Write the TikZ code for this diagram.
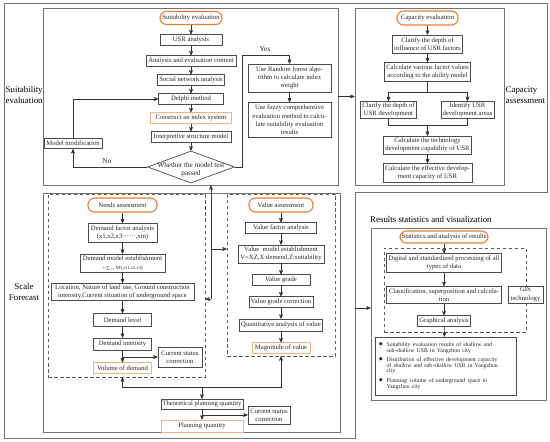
\documentclass[tikz,border=0pt]{standalone}
\usepackage{fontspec}
\setmainfont{Liberation Serif}
\usepackage{tikz}
\usetikzlibrary{arrows, positioning, shapes.geometric}
\definecolor{accent}{HTML}{ED7D31}
\definecolor{accentlight}{HTML}{F4B183}
\newcommand{\boxfont}{\fontsize{6.7}{8.3}\selectfont}
\newcommand{\sidefont}{\fontsize{8.9}{10.5}\selectfont}
\newcommand{\tagfont}{\fontsize{7.4}{8}\selectfont}
\newcommand{\decisionfont}{\fontsize{7.2}{8.4}\selectfont}
\newcommand{\bulletdot}{\smash{\raisebox{-2bp}{\fontsize{13}{13}\selectfont\textbullet}}}
\tikzstyle{panel}=[draw=black!55, line width=0.9bp]
\tikzstyle{zone}=[draw=black!65, line width=0.7bp, dash pattern=on 3.5bp off 2.5bp]
\tikzstyle{stage}=[rectangle, draw=black!70, line width=0.7bp, text=black!85, font=\boxfont, align=center, inner sep=1.5bp, minimum height=10.5bp]
\tikzstyle{headline}=[stage, rounded corners=6.5bp, draw=accent, line width=1.1bp, minimum height=13bp]
\tikzstyle{result}=[stage, draw=accentlight, line width=0.8bp]
\tikzstyle{decision}=[diamond, draw=black!70, line width=0.7bp, minimum width=87bp, minimum height=32bp, inner sep=0pt]
\tikzstyle{sidelabel}=[font=\sidefont, align=left, inner sep=1bp]
\tikzstyle{tag}=[font=\tagfont, text=black!85, inner sep=1bp]
\tikzstyle{link}=[draw=black!80, line width=0.6bp]
\tikzstyle{inflow}=[<-]

\begin{document}
\begin{tikzpicture}[x=1bp, y=-1bp, node distance=19bp, >=stealth', every edge/.style={draw, black!80, line width=0.6bp}]
  \useasboundingbox (0,0) rectangle (550,442);

  % frames
  \draw[panel] (4,3) -- (547,3) -- (547,192) -- (355,192) -- (355,438) -- (4,438) -- cycle;
  \node[panel, minimum width=295bp, minimum height=177bp] (suitbox) at (190.5,96.5) {};
  \node[panel, minimum width=149bp, minimum height=177bp] (capbox) at (429.5,96.5) {};
  \node[panel, minimum width=297bp, minimum height=239bp] (scalebox) at (191.5,312.5) {};
  \node[zone, minimum width=157bp, minimum height=183bp] (needsbox) at (126.5,285.5) {};
  \node[zone, minimum width=108bp, minimum height=162bp] (valuebox) at (281,275) {};
  \node[panel, minimum width=175bp, minimum height=172bp] (resbox) at (458.5,314) {};
  \node[zone, minimum width=142bp, minimum height=84bp] (resgroup) at (455,290) {};

  \node[sidelabel, anchor=west] (lsuit) at (4.5,95) {Suitability\\evaluation};
  \node[sidelabel, align=center] (lscale) at (24,292) {Scale\\Forecast};
  \node[sidelabel, anchor=west] (lcap) at (504.5,95) {Capacity\\assessment};
  \node[sidelabel, anchor=west] (lres) at (369,219) {Results statistics and visualization};

  % suitability evaluation
  \node[headline, minimum width=62bp] (se) at (191,18) {Suitability evaluation};
  \node[stage, minimum width=62bp] (usr) [below of=se, yshift=-3bp] {USR analysis} edge [inflow] (se);
  \node[stage, minimum width=90bp] (aec) [below of=usr, yshift=-2bp] {Analysis and evaluation content} edge [inflow] (usr);
  \node[stage, minimum width=65bp] (sna) [below of=aec] {Social network analysis} edge [inflow] (aec);
  \node[stage, minimum width=65bp] (del) [below of=sna] {Delphi method} edge [inflow] (sna);
  \node[result, minimum width=81bp] (idx) [below of=del] {Construct an index system} edge [inflow] (del);
  \node[stage, minimum width=80bp] (ism) [below of=idx] {Interpretive structure model} edge [inflow] (idx);
  \node[decision, label={[font=\decisionfont, text=black!85, align=center, yshift=-3bp]center:{Whether the model test\\passed}}] (pass) [below of=ism, yshift=-11bp] {} edge [inflow] (ism);
  \node[stage, minimum width=58bp] (mod) at (73,143.5) {Model modification};
  \node[stage, minimum width=83bp, minimum height=28bp] (rf) at (289.5,78) {Use Random forest algo-\\rithm to calculate index\\weight};
  \node[stage, minimum width=83bp, minimum height=35bp] (fz) [below of=rf, yshift=-23bp] {Use fuzzy comprehensive\\evaluation method to calcu-\\late suitability evaluation\\results} edge [inflow] (rf);
  \node[tag] (no) at (107,161) {No};
  \node[tag] (yes) at (265,49) {Yes};

  % capacity evaluation
  \node[headline, minimum width=61bp, minimum height=14bp] (ce) at (427.5,18) {Capacity evaluation};
  \node[stage, minimum width=69bp, minimum height=18bp] (cdi) [below of=ce, yshift=-7bp] {Clarify the depth of\\influence of USR factors} edge [inflow] (ce);
  \node[stage, minimum width=86bp, minimum height=19bp] (cfv) [below of=cdi, yshift=-9bp] {Calculate various factor values\\according to the ability model} edge [inflow] (cdi);
  \node[stage, minimum width=55bp, minimum height=17bp] (cdd) [below of=cfv, xshift=-39bp, yshift=-19bp] {Clarify the depth of\\USR development};
  \node[stage, minimum width=53bp, minimum height=17bp] (ida) [below of=cfv, xshift=40bp, yshift=-19bp] {Identify USR\\development areas};
  \node[stage, minimum width=87bp, minimum height=18bp] (ctc) [below of=cfv, yshift=-54bp] {Calculate the technology\\development capability of USR};
  \node[stage, minimum width=89bp, minimum height=19bp] (ecc) [below of=ctc, yshift=-9bp] {Calculate the effective develop-\\ment capacity of USR} edge [inflow] (ctc);
  \coordinate (split) at (427.5,92);
  \coordinate (merge) at (427.5,125);

  % needs assessment
  \node[headline, minimum width=69bp, minimum height=14bp] (na) at (122.5,205) {Needs assessment};
  \node[stage, minimum width=69bp, minimum height=19bp] (dfa) [below of=na, yshift=-9bp] {Demand factor analysis\\(x1,x2,x3······,xm)} edge [inflow] (na);
  \node[stage, minimum width=85bp, minimum height=18bp] (dme) [below of=dfa, yshift=-11bp] {Demand model establishment\\[0.6bp]{\fontsize{4.6}{5}\selectfont +-∑\textsubscript{i=1} ND\textsubscript{i}(x1,x2,x3)}} edge [inflow] (dfa);
  \node[stage, minimum width=143bp, minimum height=17bp] (loc) [below of=dme, yshift=-10bp] {Location, Nature of land use, Ground construction\\intensity,Current situation of underground space} edge [inflow] (dme);
  \node[stage, minimum width=58bp, minimum height=13bp] (dl) [below of=loc, yshift=-9bp] {Demand level} edge [inflow] (loc);
  \node[stage, minimum width=58bp, minimum height=12bp] (di) [below of=dl, yshift=-5bp] {Demand intensity} edge [inflow] (dl);
  \node[result, minimum width=58bp] (vod) [below of=di, yshift=-5bp] {Volume of demand} edge [inflow] (di);
  \node[stage, minimum width=44bp, minimum height=20bp] (csc1) at (180,357) {Current status\\correction};

  % value assessment
  \node[headline, minimum width=64bp, minimum height=14bp] (va) at (281,205) {Value assessment};
  \node[stage, minimum width=71bp] (vfa) [below of=va, yshift=-4bp] {Value factor analysis} edge [inflow] (va);
  \node[stage, minimum width=86bp, minimum height=18bp] (vme) [below of=vfa, yshift=-7bp] {Value\ \ model establishment\\V=XZ,X:demend,Z:suitability} edge [inflow] (vfa);
  \node[stage, minimum width=58bp] (vg) [below of=vme, yshift=-7bp] {Value grade} edge [inflow] (vme);
  \node[stage, minimum width=64bp] (vgc) [below of=vg, yshift=-3bp] {Value grade correction} edge [inflow] (vg);
  \node[stage, minimum width=82bp, minimum height=12bp] (qav) [below of=vgc, yshift=-4bp] {Quantitative analysis of value} edge [inflow] (vgc);
  \node[result, minimum width=58bp] (mov) [below of=qav, yshift=-4bp] {Magnitude of value} edge [inflow] (qav);

  % planning quantity
  \node[stage, minimum width=82bp, minimum height=10bp] (tpq) at (202,404) {Theoretical planning quantity};
  \node[result, minimum width=82bp, minimum height=12bp] (pq) [below of=tpq, yshift=-3bp] {Planning quantity} edge [inflow] (tpq);
  \node[stage, minimum width=42bp, minimum height=18bp] (csc2) at (269,415) {Current status\\correction};

  % results
  \node[headline, minimum width=88bp, minimum height=12bp] (sar) at (444,237) {Statistics and analysis of results};
  \node[stage, minimum width=115bp, minimum height=19bp] (dsp) [below of=sar, yshift=-7bp] {Digital and standardized processing of all\\types of data} edge [inflow] (sar);
  \node[stage, minimum width=115bp, minimum height=17bp] (csc3) [below of=dsp, yshift=-13bp] {Classification, superposition and calcula-\\tion} edge [inflow] (dsp);
  \node[stage, minimum width=52bp] (ga) [below of=csc3, yshift=-7bp] {Graphical analysis} edge [inflow] (csc3);
  \node[stage, fill=white, minimum width=35bp, minimum height=17bp] (gis) at (525.5,294.5) {GIS\\technology};
  \node[stage, minimum width=141bp, minimum height=58bp, text width=134bp, align=left] (outcome) at (445.5,366) {%
    {\fontsize{5.8}{5.8}\selectfont
    \begin{tabular}{@{}l@{\hspace{3.5bp}}l@{}}
      \bulletdot & Suitability evaluation results of shallow and\\
                 & sub-shallow USR in Yangzhou city\\[3.5bp]
      \bulletdot & Distribution of effective development capacity\\
                 & of shallow and sub-shallow USR in Yangzhou\\
                 & city\\[3.5bp]
      \bulletdot & Planning volume of underground space in\\
                 & Yangzhou city
    \end{tabular}}} edge [inflow] (ga);

  % connectors
  \draw[link, ->] (pass.west) -| (mod.south);
  \draw[link, ->] (mod.north) |- (del.west);
  \coordinate (yesturn) at (242,55);
  \draw[link, ->] (pass.east) -| (yesturn) -| (rf.north);
  \draw[link, ->] (suitbox.east) -- (capbox.west);

  \draw[link] (cfv.south) -- (split);
  \draw[link, ->] (split) -| (cdd.north);
  \draw[link, ->] (split) -| (ida.north);
  \draw[link] (cdd.south) |- (merge);
  \draw[link] (ida.south) |- (merge);
  \draw[link, ->] (merge) -- (ctc.north);

  \coordinate (hub) at (211,299);
  \coordinate (tovalue) at (211,249);
  \draw[link, ->] (hub) -- (hub |- suitbox.south);
  \draw[link, ->] (hub) -- (hub -| needsbox.east);
  \draw[link, ->] (tovalue) -- (tovalue -| valuebox.west);
  \draw[link, ->] (di.south |- csc1.west) -- (csc1.west);

  \coordinate (bus) at (202,387);
  \draw[link, ->] (bus) -- (tpq.north);
  \draw[link, ->] (bus) -| (vod |- needsbox.south);
  \draw[link, ->] (bus) -| (mov |- valuebox.south);
  \draw[link, ->] (tpq.south |- csc2.west) -- (csc2.west);

  \coordinate (resin) at (355,308);
  \draw[link, ->] (resin) -- (resin -| resbox.west);
\end{tikzpicture}
\end{document}
